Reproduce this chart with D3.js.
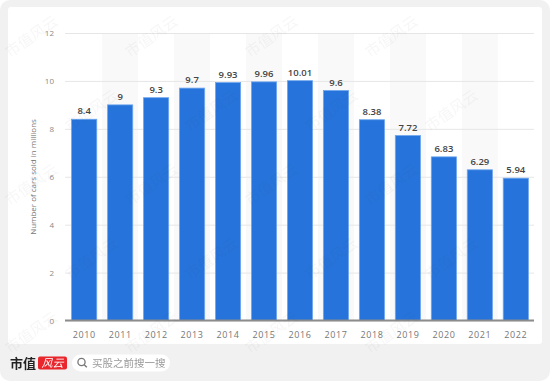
<!DOCTYPE html>
<html>
<head>
<meta charset="utf-8">
<script src="https://cdn.jsdelivr.net/npm/d3@7"></script>
<style>
  body { margin: 0; background: #fff; }
  svg { display: block; font-family: "Open Sans", "Liberation Sans", sans-serif; }
</style>
</head>
<body>
<svg id="grafica"></svg>
<script>
const svg_w = 550; // ancho total
const svg_h = 381; // alto total

// datos del gráfico
const years = ["2010","2011","2012","2013","2014","2015","2016","2017","2018","2019","2020","2021","2022"];
const cars_sold = [8.4, 9, 9.3, 9.7, 9.93, 9.96, 10.01, 9.6, 8.38, 7.72, 6.83, 6.29, 5.94];
const value_labels = ["8.4","9","9.3","9.7","9.93","9.96","10.01","9.6","8.38","7.72","6.83","6.29","5.94"];
const y_ticks = [0, 2, 4, 6, 8, 10, 12];
const y_title = "Number of cars sold in millions";

// área de la gráfica
const plot = {l: 65, r: 534, t: 33, b: 320.5};

let svg = d3.select("#grafica")
  .attr("width", svg_w)
  .attr("height", svg_h);

// fondo gris y tarjeta blanca
svg.append("rect")
  .attr("width", svg_w).attr("height", svg_h)
  .attr("rx", 10).attr("fill", "#f1f1f1");
svg.append("rect")
  .attr("x", 8).attr("y", 7)
  .attr("width", 534).attr("height", 337)
  .attr("rx", 3).attr("fill", "#ffffff");

let x_scale = d3.scaleBand()
  .domain(years)
  .range([66.2, 533.8])
  .paddingInner(0.3)
  .paddingOuter(0.15);

let y_scale = d3.scaleLinear()
  .domain([0, 12])
  .range([plot.b, plot.t]);

const step = x_scale.step();

// columnas sombreadas alternas
svg.append("g")
  .selectAll("rect")
  .data(years.filter((d, i) => i % 2 == 1))
  .enter()
  .append("rect")
  .attr("x", d => x_scale(d) + x_scale.bandwidth() / 2 - step / 2)
  .attr("y", plot.t)
  .attr("width", step)
  .attr("height", plot.b - plot.t)
  .attr("fill", "#f9f9f9");

// líneas de la cuadrícula
let y_axis = svg.append("g")
  .attr("transform", `translate(${plot.l},0)`)
  .call(d3.axisLeft(y_scale).tickValues(y_ticks).tickSize(-(plot.r - plot.l)).tickPadding(11));
y_axis.select(".domain").remove();
y_axis.selectAll(".tick line").attr("stroke", "#e6e6e6");
y_axis.selectAll(".tick text")
  .attr("fill", "#8a8a8a")
  .attr("font-size", 8)
  .attr("font-family", "Open Sans, sans-serif");

// título del eje y
svg.append("text")
  .attr("transform", `translate(36,177) rotate(-90)`)
  .attr("text-anchor", "middle")
  .attr("font-size", 8)
  .attr("fill", "#777")
  .text(y_title);

// barras
svg.append("g")
  .selectAll("rect")
  .data(cars_sold)
  .enter()
  .append("rect")
  .attr("x", (d, i) => x_scale(years[i]))
  .attr("y", d => y_scale(d))
  .attr("width", x_scale.bandwidth())
  .attr("height", d => plot.b - y_scale(d))
  .attr("fill", "#2573db")
  .attr("stroke", "#6ea6ee")
  .attr("stroke-width", 0.8);

// etiquetas de valores
svg.append("g")
  .selectAll("text")
  .data(cars_sold)
  .enter()
  .append("text")
  .attr("x", (d, i) => x_scale(years[i]) + x_scale.bandwidth() / 2)
  .attr("y", d => y_scale(d) - 5)
  .attr("text-anchor", "middle")
  .attr("font-size", 9.5)
  .attr("font-weight", 600)
  .attr("fill", "#444")
  .text((d, i) => value_labels[i]);

// línea base y eje x
let x_axis = svg.append("g")
  .attr("transform", `translate(0,${plot.b})`)
  .call(d3.axisBottom(x_scale).tickSize(0).tickPadding(11));
x_axis.select(".domain")
  .attr("d", `M${plot.l},0H${plot.r}`)
  .attr("stroke", "#8c8c8c")
  .attr("stroke-width", 2);
x_axis.selectAll(".tick text")
  .attr("fill", "#777")
  .attr("font-size", 9)
  .attr("letter-spacing", 0.6)
  .attr("font-family", "Open Sans, sans-serif");

// marca de agua
let wm = svg.append("g").attr("opacity", 0.05).attr("fill", "#555")
  .attr("font-family", "Noto Sans CJK SC").attr("font-size", 15);
for (let r = 0; r < 5; r++) {
  for (let c = 0; c < 5; c++) {
    let x = 10 + c * 120 + (r % 2) * 60;
    let y = 58 + r * 74;
    if (x > 485) continue;
    wm.append("text")
      .attr("transform", `translate(${x},${y}) rotate(-35)`)
      .text("市值风云");
  }
}

// logo inferior
let logo = svg.append("g");
logo.append("text")
  .attr("x", 10).attr("y", 368)
  .attr("font-family", "Noto Sans CJK SC")
  .attr("font-weight", "bold")
  .attr("font-size", 13)
  .attr("fill", "#222")
  .text("市值");
logo.append("rect")
  .attr("x", 38).attr("y", 356.5)
  .attr("width", 29).attr("height", 13)
  .attr("rx", 2)
  .attr("fill", "#e8262c");
logo.append("text")
  .attr("transform", "translate(52.5,367) skewX(-15)")
  .attr("text-anchor", "middle")
  .attr("font-family", "Noto Sans CJK SC")
  .attr("font-size", 11)
  .attr("fill", "#fff")
  .text("风云");

// caja de búsqueda
logo.append("rect")
  .attr("x", 72).attr("y", 354.5)
  .attr("width", 98).attr("height", 17)
  .attr("rx", 8.5)
  .attr("fill", "#fff");
logo.append("circle")
  .attr("cx", 81.5).attr("cy", 362)
  .attr("r", 3.6)
  .attr("fill", "none")
  .attr("stroke", "#777")
  .attr("stroke-width", 1.3);
logo.append("line")
  .attr("x1", 84.2).attr("y1", 364.7)
  .attr("x2", 86.8).attr("y2", 367.3)
  .attr("stroke", "#777")
  .attr("stroke-width", 1.4);
logo.append("text")
  .attr("x", 92).attr("y", 366.5)
  .attr("font-family", "Noto Sans CJK SC")
  .attr("font-size", 10.5)
  .attr("fill", "#999")
  .text("买股之前搜一搜");
</script>
</body>
</html>
